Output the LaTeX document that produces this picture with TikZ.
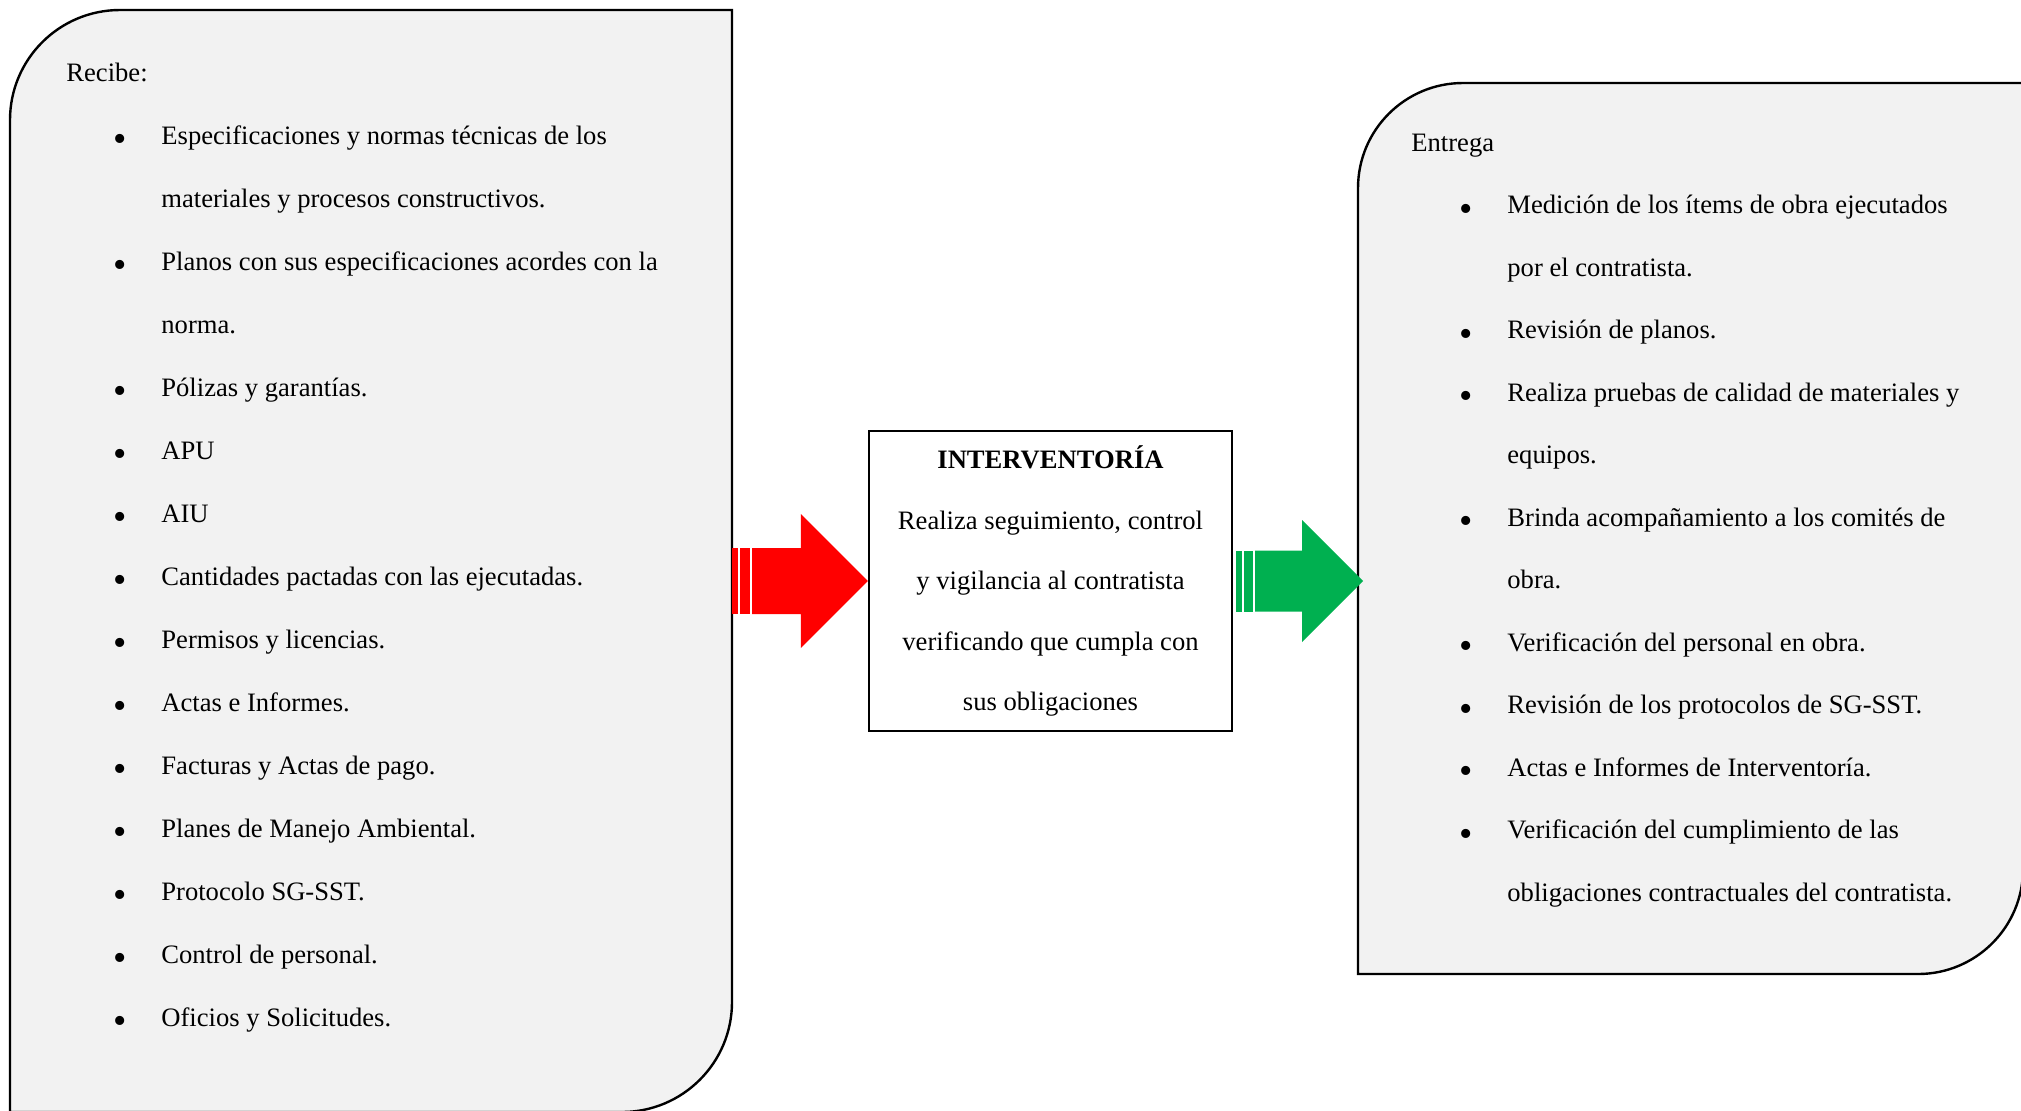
\documentclass[tikz,border=0pt]{standalone}
\usepackage{fontspec}
\setmainfont{Liberation Serif}
\usetikzlibrary{calc}

\definecolor{boxgray}{HTML}{F2F2F2}
\definecolor{arrowgreen}{HTML}{00B050}

\begin{document}
\begin{tikzpicture}[
        x=0.5pt, y=-0.5pt,
        panel/.style={draw=black, line width=1.2pt, fill=boxgray},
        midbox/.style={rectangle, draw=black, line width=1.2pt, fill=white, minimum width=181.5pt, minimum height=150pt, align=center, inner sep=0pt, font=\fontsize{13.3}{30.25}\selectfont},
        txt/.style={anchor=base west, inner sep=0pt, font=\fontsize{13.3}{15}\selectfont},
        bulletmark/.style={anchor=center, inner sep=0pt, font=\fontsize{19}{19}\selectfont}
    ]
        \useasboundingbox (0,0) rectangle (2021,1110);

        % Panels
        \draw[panel] (10,1112) -- (10,120) .. controls (10,59.25) and (59.25,10) .. (120,10) -- (732,10) -- (732,1002) .. controls (732,1062.75) and (682.75,1112) .. (622,1112) -- cycle;
        \draw[panel] (1358,974) -- (1358,188) .. controls (1358,130) and (1405,83) .. (1463,83) -- (2023,83) -- (2023,869) .. controls (2023,927) and (1976,974) .. (1918,974) -- cycle;

        % Interventoria
        \node[midbox] (interv) at (1050.5,581) {\textbf{INTERVENTORÍA}\\Realiza seguimiento, control\\y vigilancia al contratista\\verificando que cumpla con\\sus obligaciones};

        % Recibe
        \node[txt] (recibe) at (66,81) {Recibe:};
        \node[bulletmark] (b1) at (120,143) {\textbullet};
        \node[txt] (espec) at (161,144) {Especificaciones y normas técnicas de los};
        \node[txt] (espec2) at (161,207) {materiales y procesos constructivos.};
        \node[bulletmark] (b2) at (120,269) {\textbullet};
        \node[txt] (planos) at (161,270) {Planos con sus especificaciones acordes con la};
        \node[txt] (planos2) at (161,333) {norma.};
        \node[bulletmark] (b3) at (120,395) {\textbullet};
        \node[txt] (polizas) at (161,396) {Pólizas y garantías.};
        \node[bulletmark] (b4) at (120,458) {\textbullet};
        \node[txt] (apu) at (161,459) {APU};
        \node[bulletmark] (b5) at (120,521) {\textbullet};
        \node[txt] (aiu) at (161,522) {AIU};
        \node[bulletmark] (b6) at (120,584) {\textbullet};
        \node[txt] (cantid) at (161,585) {Cantidades pactadas con las ejecutadas.};
        \node[bulletmark] (b7) at (120,647) {\textbullet};
        \node[txt] (permisos) at (161,648) {Permisos y licencias.};
        \node[bulletmark] (b8) at (120,710) {\textbullet};
        \node[txt] (actas) at (161,711) {Actas e Informes.};
        \node[bulletmark] (b9) at (120,773) {\textbullet};
        \node[txt] (facturas) at (161,774) {Facturas y Actas de pago.};
        \node[bulletmark] (b10) at (120,836) {\textbullet};
        \node[txt] (planes) at (161,837) {Planes de Manejo Ambiental.};
        \node[bulletmark] (b11) at (120,899) {\textbullet};
        \node[txt] (protocolo) at (161,900) {Protocolo SG-SST.};
        \node[bulletmark] (b12) at (120,962) {\textbullet};
        \node[txt] (control) at (161,963) {Control de personal.};
        \node[bulletmark] (b13) at (120,1025) {\textbullet};
        \node[txt] (oficios) at (161,1026) {Oficios y Solicitudes.};

        % Entrega
        \node[txt] (entrega) at (1411,151) {Entrega};
        \node[bulletmark] (c1) at (1466,212.5) {\textbullet};
        \node[txt] (medicion) at (1507,213.5) {Medición de los ítems de obra ejecutados};
        \node[txt] (medicion2) at (1507,276) {por el contratista.};
        \node[bulletmark] (c2) at (1466,337.5) {\textbullet};
        \node[txt] (revplanos) at (1507,338.5) {Revisión de planos.};
        \node[bulletmark] (c3) at (1466,400) {\textbullet};
        \node[txt] (pruebas) at (1507,401) {Realiza pruebas de calidad de materiales y};
        \node[txt] (pruebas2) at (1507,463.5) {equipos.};
        \node[bulletmark] (c4) at (1466,525) {\textbullet};
        \node[txt] (brinda) at (1507,526) {Brinda acompañamiento a los comités de};
        \node[txt] (brinda2) at (1507,588.5) {obra.};
        \node[bulletmark] (c5) at (1466,650) {\textbullet};
        \node[txt] (verifpers) at (1507,651) {Verificación del personal en obra.};
        \node[bulletmark] (c6) at (1466,712.5) {\textbullet};
        \node[txt] (revsgsst) at (1507,713.5) {Revisión de los protocolos de SG-SST.};
        \node[bulletmark] (c7) at (1466,775) {\textbullet};
        \node[txt] (actasint) at (1507,776) {Actas e Informes de Interventoría.};
        \node[bulletmark] (c8) at (1466,837.5) {\textbullet};
        \node[txt] (verifcump) at (1507,838.5) {Verificación del cumplimiento de las};
        \node[txt] (verifcump2) at (1507,901) {obligaciones contractuales del contratista.};

        % Arrows
        \coordinate (rs) at (732,581);
        \fill[red] ($(rs)+(0,-33)$) rectangle ++(6,66);
        \fill[red] ($(rs)+(8,-33)$) rectangle ++(10,66);
        \fill[red] ($(rs)+(20,-33)$) -- ($(interv.west)+(-67,-33)$) -- ($(interv.west)+(-67,-67)$) -- (interv.west) -- ($(interv.west)+(-67,67)$) -- ($(interv.west)+(-67,33)$) -- ($(rs)+(20,33)$) -- cycle;

        \coordinate (gs) at ($(interv.east)+(3,0)$);
        \coordinate (gt) at (1363,581);
        \fill[arrowgreen] ($(gs)+(0,-30.5)$) rectangle ++(6,61);
        \fill[arrowgreen] ($(gs)+(8,-30.5)$) rectangle ++(9,61);
        \fill[arrowgreen] ($(gs)+(19,-30.5)$) -- ($(gt)+(-61,-30.5)$) -- ($(gt)+(-61,-61)$) -- (gt) -- ($(gt)+(-61,61)$) -- ($(gt)+(-61,30.5)$) -- ($(gs)+(19,30.5)$) -- cycle;
    \end{tikzpicture}
\end{document}
